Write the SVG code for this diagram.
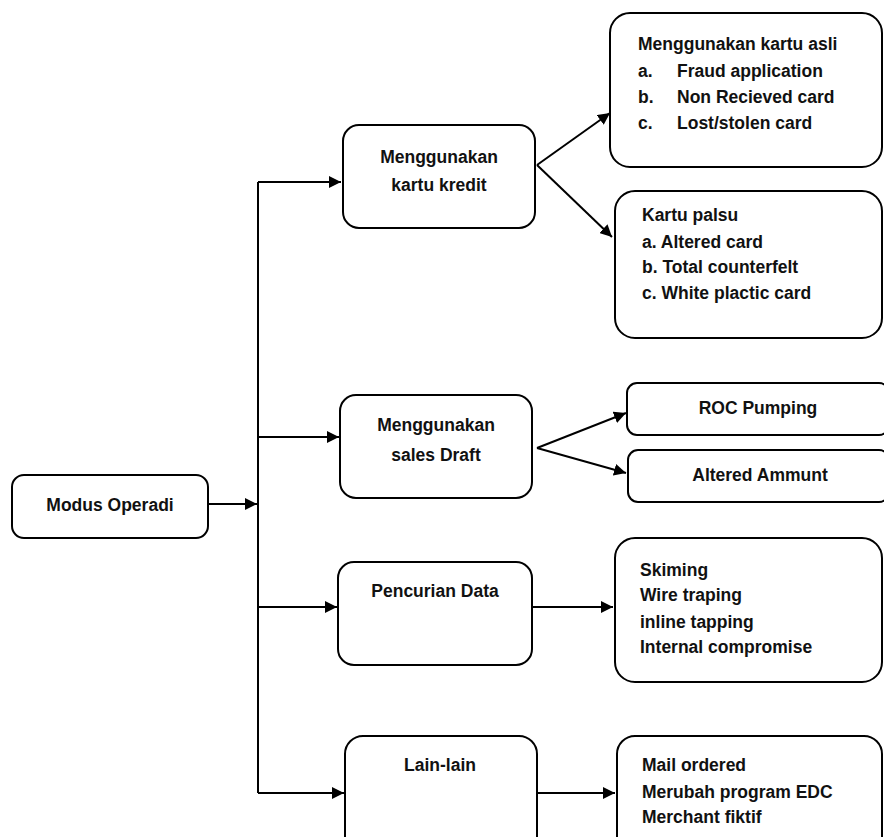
<svg xmlns="http://www.w3.org/2000/svg" width="884" height="837" viewBox="0 0 884 837">
<defs>
<marker id="ah" viewBox="0 0 10 10" refX="10" refY="5" markerWidth="6" markerHeight="6" markerUnits="strokeWidth" orient="auto">
<path d="M0,0 L10,5 L0,10 z" fill="#000"/>
</marker>
<style>
.box{fill:none;stroke:#000;stroke-width:2}
.t{font-family:"Liberation Sans",Arial,sans-serif;font-weight:bold;font-size:17.5px;fill:#111}
.c{text-anchor:middle}
.ln{fill:none;stroke:#000;stroke-width:2}
.ar{fill:none;stroke:#000;stroke-width:2;marker-end:url(#ah)}
</style>
</defs>
<rect width="884" height="837" fill="#fff"/>
<g id="connectors">
<path class="ln" d="M258,182 V793"/>
<path class="ar" d="M208,504 H257"/>
<path class="ar" d="M258,182 H341"/>
<path class="ar" d="M258,437 H339"/>
<path class="ar" d="M258,607 H337"/>
<path class="ar" d="M258,793 H344"/>
<path class="ar" d="M537,165 L610,113"/>
<path class="ar" d="M537,165 L612,237"/>
<path class="ar" d="M537,448 L626,413"/>
<path class="ar" d="M537,448 L626,473"/>
<path class="ar" d="M532,607 H613"/>
<path class="ar" d="M537,793 H615"/>
</g>
<g id="modus">
<rect class="box" x="12" y="475" width="196" height="63" rx="12"/>
<text class="t c" x="110" y="511">Modus Operadi</text>
</g>
<g id="kartu-kredit">
<rect class="box" x="343" y="125" width="192" height="103" rx="16"/>
<text class="t c" x="439" y="163">Menggunakan</text>
<text class="t c" x="439" y="191">kartu kredit</text>
</g>
<g id="kartu-asli">
<rect class="box" x="610" y="13" width="272" height="154" rx="20"/>
<text class="t" x="638" y="50">Menggunakan kartu asli</text>
<text class="t" x="638" y="77">a.</text><text class="t" x="677" y="77">Fraud application</text>
<text class="t" x="638" y="103">b.</text><text class="t" x="677" y="103">Non Recieved card</text>
<text class="t" x="638" y="129">c.</text><text class="t" x="677" y="129">Lost/stolen card</text>
</g>
<g id="kartu-palsu">
<rect class="box" x="615" y="191" width="267" height="147" rx="20"/>
<text class="t" x="642" y="221">Kartu palsu</text>
<text class="t" x="642" y="248">a. Altered card</text>
<text class="t" x="642" y="273">b. Total counterfelt</text>
<text class="t" x="642" y="299">c. White plactic card</text>
</g>
<g id="sales-draft">
<rect class="box" x="340" y="395" width="192" height="103" rx="16"/>
<text class="t c" x="436" y="431">Menggunakan</text>
<text class="t c" x="436" y="461">sales Draft</text>
</g>
<g id="roc">
<rect class="box" x="627" y="383" width="262" height="52" rx="10"/>
<text class="t c" x="758" y="414">ROC Pumping</text>
</g>
<g id="altered">
<rect class="box" x="628" y="450" width="261" height="52" rx="10"/>
<text class="t c" x="760" y="481">Altered Ammunt</text>
</g>
<g id="pencurian">
<rect class="box" x="338" y="562" width="194" height="103" rx="16"/>
<text class="t c" x="435" y="597">Pencurian Data</text>
</g>
<g id="skiming">
<rect class="box" x="615" y="538" width="267" height="144" rx="20"/>
<text class="t" x="640" y="576">Skiming</text>
<text class="t" x="640" y="601">Wire traping</text>
<text class="t" x="640" y="628">inline tapping</text>
<text class="t" x="640" y="653">Internal compromise</text>
</g>
<g id="lain">
<rect class="box" x="345" y="736" width="192" height="120" rx="18"/>
<text class="t c" x="440" y="771">Lain-lain</text>
</g>
<g id="mail">
<rect class="box" x="617" y="736" width="265" height="120" rx="18"/>
<text class="t" x="642" y="771">Mail ordered</text>
<text class="t" x="642" y="798">Merubah program EDC</text>
<text class="t" x="642" y="823">Merchant fiktif</text>
</g>
</svg>
